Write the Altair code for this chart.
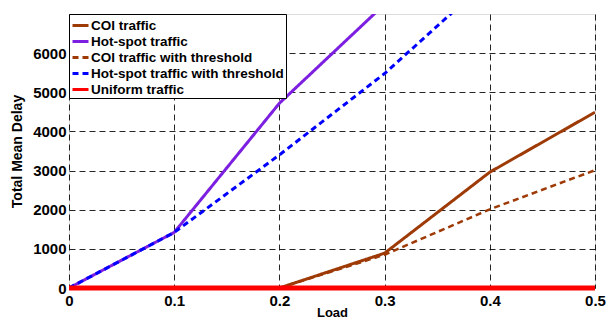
import altair as alt
import pandas as pd

loads = [0.0, 0.1, 0.2, 0.3, 0.4, 0.5]
coi = [0, 0, 0, 890, 2960, 4490]
hotspot = [0, 1420, 4720, 7250, 9800, 12000]
coi_thr = [0, 0, 0, 850, 2010, 3010]
hot_thr = [0, 1420, 3400, 5480, 7900, 10000]
uniform = [0, 0, 0, 0, 0, 0]

series_names = ["COI traffic", "Hot-spot traffic", "COI traffic with threshold",
                "Hot-spot traffic with threshold", "Uniform traffic"]
series_vals = [coi, hotspot, coi_thr, hot_thr, uniform]
colors = ["#9e3a06", "#7c1fe0", "#9e3a06", "#0000ff", "#ff0000"]
dashes = [[1, 0], [1, 0], [6, 4], [6, 4], [1, 0]]
widths = [3, 3, 2.5, 3, 5]

rows = []
for name, vals in zip(series_names, series_vals):
    for x, y in zip(loads, vals):
        rows.append({"load": x, "delay": y, "series": name})
df = pd.DataFrame(rows)

font = "Liberation Sans"

xenc = alt.X("load:Q", title="Load",
             scale=alt.Scale(domain=[0, 0.5], nice=False),
             axis=alt.Axis(values=loads, labelExpr="datum.value == 0 ? '0' : format(datum.value, '.1f')",
                           grid=True, gridColor="black", gridDash=[6, 4], gridOpacity=0.85,
                           domain=False, ticks=False, labelPadding=5,
                           labelFont=font, labelFontSize=15, labelFontWeight="bold", labelColor="black",
                           titleFont=font, titleFontSize=13, titleFontWeight="bold", titleColor="black",
                           titlePadding=-2, labelFlush=False))
yenc = alt.Y("delay:Q", title="Total Mean Delay",
             scale=alt.Scale(domain=[0, 7000], nice=False),
             axis=alt.Axis(values=[0, 1000, 2000, 3000, 4000, 5000, 6000], format="d",
                           grid=True, gridColor="black", gridDash=[6, 4], gridOpacity=0.85,
                           domain=False, ticks=False, labelPadding=3,
                           labelFont=font, labelFontSize=15, labelFontWeight="bold", labelColor="black",
                           titleFont=font, titleFontSize=14, titleFontWeight="bold", titleColor="black",
                           titlePadding=8))

color = alt.Color("series:N", scale=alt.Scale(domain=series_names, range=colors),
                  sort=series_names,
                  legend=alt.Legend(title=None, orient="none", legendX=0, legendY=0,
                                    fillColor="white", strokeColor="black", padding=2,
                                    symbolType="stroke", symbolSize=256, symbolStrokeWidth=3,
                                    labelFont=font, labelFontSize=13.5, labelFontWeight="bold",
                                    labelColor="black", rowPadding=0, labelOffset=1,
                                    labelLimit=400))
dash = alt.StrokeDash("series:N", scale=alt.Scale(domain=series_names, range=dashes),
                      sort=series_names, legend=None)

layers = []
for i, name in enumerate(series_names):
    layers.append(
        alt.Chart(df).transform_filter(alt.datum.series == name)
        .mark_line(clip=(name != "Uniform traffic"), strokeWidth=widths[i])
        .encode(x=xenc, y=yenc, color=color, strokeDash=dash)
    )

chart = alt.layer(*layers).properties(
    width=526, height=274,
    autosize=alt.AutoSizeParams(type="none"),
    padding={"left": 69, "top": 14, "right": 11, "bottom": 32},
).configure_view(stroke="black", strokeWidth=1.2).configure(background="white")

chart.save("out.html", embed_options={"renderer": "svg", "actions": False})
